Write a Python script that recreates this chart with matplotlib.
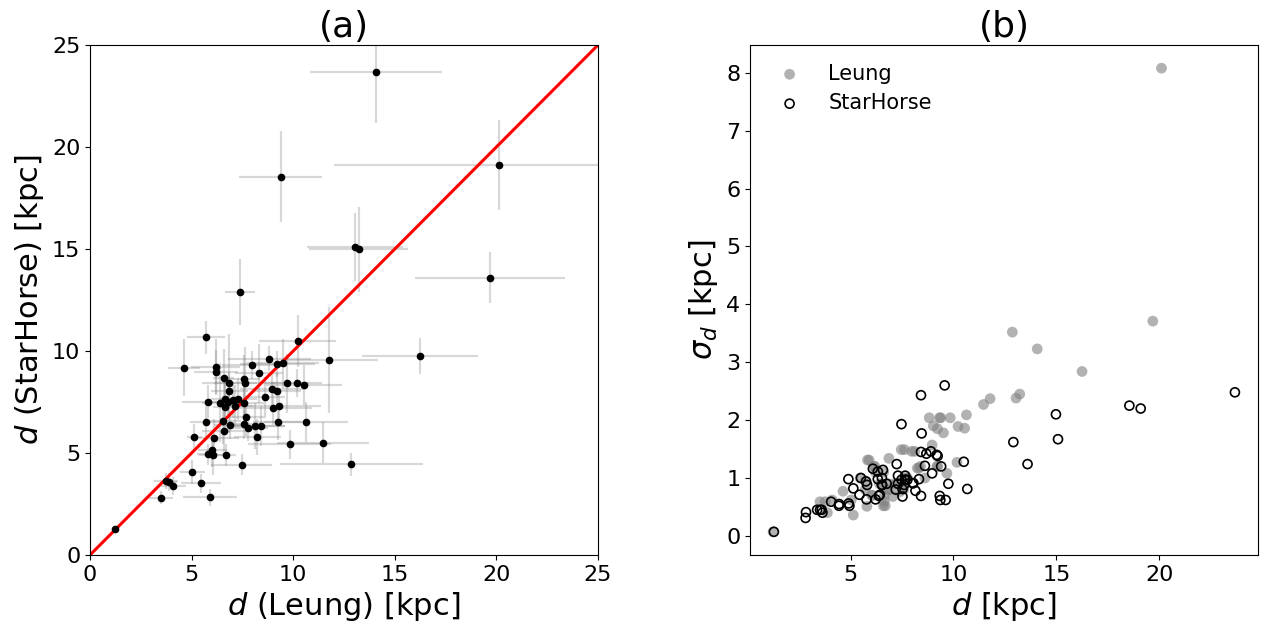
import matplotlib
matplotlib.use("Agg")
import matplotlib.pyplot as plt
import numpy as np

# distances (kpc) and uncertainties for each star
d_leung = [14.07, 9.38, 20.11, 13.04, 13.22, 19.69, 7.38, 16.25, 12.86, 11.78,
           5.71, 4.63, 6.18, 6.20, 7.97, 8.82, 9.22, 9.51, 10.22, 8.33,
           6.59, 6.86, 7.58, 7.61, 9.68, 10.17, 10.54, 6.86, 8.96, 9.19,
           8.61, 5.82, 6.40, 6.64, 6.81, 7.05, 7.30, 7.58, 7.14, 6.64,
           9.02, 9.32, 5.71, 6.53, 6.89, 7.68, 7.58, 7.76, 8.12, 8.40,
           9.24, 10.63, 6.61, 5.13, 6.12, 8.24, 9.84, 11.46, 6.02, 5.79,
           6.07, 6.68, 7.46, 5.03, 3.76, 3.87, 4.10, 5.46, 3.51, 5.90,
           1.23]
d_starhorse = [23.68, 18.55, 19.10, 15.08, 14.98, 13.60, 12.91, 9.75, 4.44, 9.57,
               10.67, 9.18, 9.23, 8.96, 9.33, 9.62, 9.36, 9.40, 10.50, 8.90,
               8.68, 8.42, 8.61, 8.45, 8.42, 8.42, 8.32, 8.05, 8.15, 8.02,
               7.76, 7.52, 7.47, 7.65, 7.52, 7.60, 7.65, 7.47, 7.30, 7.24,
               7.19, 7.30, 6.53, 6.57, 6.37, 6.75, 6.42, 6.21, 6.32, 6.32,
               6.52, 6.52, 6.08, 5.77, 5.75, 5.80, 5.43, 5.50, 5.13, 4.94,
               4.89, 4.90, 4.43, 4.05, 3.63, 3.59, 3.37, 3.51, 2.81, 2.83,
               1.27]
sig_leung = [3.23, 2.04, 8.08, 2.38, 2.45, 3.71, 0.76, 2.84, 3.52, 2.37,
             0.95, 0.77, 1.20, 1.10, 1.46, 2.04, 1.85, 1.78, 1.89, 1.17,
             0.52, 1.34, 0.80, 1.49, 1.08, 1.27, 1.86, 0.90, 1.57, 1.20,
             1.00, 1.31, 0.90, 0.70, 0.80, 0.68, 0.90, 1.00, 0.90, 0.60,
             1.90, 2.04, 0.80, 0.90, 0.80, 1.00, 0.90, 1.00, 1.46, 1.20,
             1.20, 2.09, 1.10, 0.36, 1.20, 1.17, 2.04, 2.27, 0.70, 0.51,
             0.70, 0.52, 1.49, 0.62, 0.59, 0.40, 0.62, 1.00, 0.59, 1.31,
             0.07]
sig_starhorse = [2.48, 2.25, 2.20, 1.67, 2.10, 1.24, 1.62, 0.90, 0.55, 2.60,
                 0.81, 1.40, 1.38, 1.08, 0.69, 0.62, 0.62, 1.20, 1.28, 1.46,
                 1.42, 2.43, 1.21, 1.77, 1.45, 0.69, 0.98, 0.91, 0.78, 0.91,
                 0.97, 0.81, 1.93, 0.97, 0.68, 0.88, 1.04, 0.97, 1.04, 1.24,
                 0.80, 0.90, 0.88, 1.14, 0.69, 0.90, 0.71, 0.63, 1.11, 0.98,
                 0.88, 1.00, 1.16, 0.63, 0.94, 0.88, 0.71, 1.00, 0.82, 0.52,
                 0.98, 0.56, 0.52, 0.59, 0.40, 0.45, 0.45, 0.45, 0.31, 0.41,
                 0.07]

W, H = 1265, 630
fig = plt.figure(figsize=(W / 100, H / 100), dpi=100)
axA = fig.add_axes([90 / W, 1 - 555 / H, (598 - 90) / W, (555 - 45) / H])
axB = fig.add_axes([750 / W, 1 - 555 / H, (1258 - 750) / W, (555 - 45) / H])

# panel (a)
axA.errorbar(d_leung, d_starhorse, xerr=sig_leung, yerr=sig_starhorse,
             fmt='none', ecolor='gray', alpha=0.3, elinewidth=1.6, capsize=0, zorder=1)
axA.plot([0, 25], [0, 25], color='red', lw=2.2, zorder=2)
axA.plot(d_leung, d_starhorse, 'o', color='black', ms=4.5, zorder=3)
axA.set_xlim(0, 25)
axA.set_ylim(0, 25)
axA.set_xticks([0, 5, 10, 15, 20, 25])
axA.set_yticks([0, 5, 10, 15, 20, 25])
axA.set_xlabel(r'$d$ (Leung) [kpc]', fontsize=22)
axA.set_ylabel(r'$d$ (StarHorse) [kpc]', fontsize=22)
axA.set_title('(a)', fontsize=26)

# panel (b)
axB.scatter(d_leung, sig_leung, s=60, color='gray', alpha=0.6, edgecolors='none',
            label='Leung', zorder=2)
axB.scatter(d_starhorse, sig_starhorse, s=42, facecolors='none', edgecolors='black',
            linewidths=1.2, label='StarHorse', zorder=3)
axB.set_xticks([5, 10, 15, 20])
axB.set_yticks([0, 1, 2, 3, 4, 5, 6, 7, 8])
axB.set_xlabel(r'$d$ [kpc]', fontsize=22)
axB.set_ylabel(r'$\sigma_d$ [kpc]', fontsize=22)
axB.set_title('(b)', fontsize=26)
axB.legend(loc='upper left', frameon=False, fontsize=15, markerscale=1.0,
           handletextpad=0.85, labelspacing=0.45)

for ax in (axA, axB):
    ax.tick_params(labelsize=16)

fig.savefig('out.png', dpi=100)
